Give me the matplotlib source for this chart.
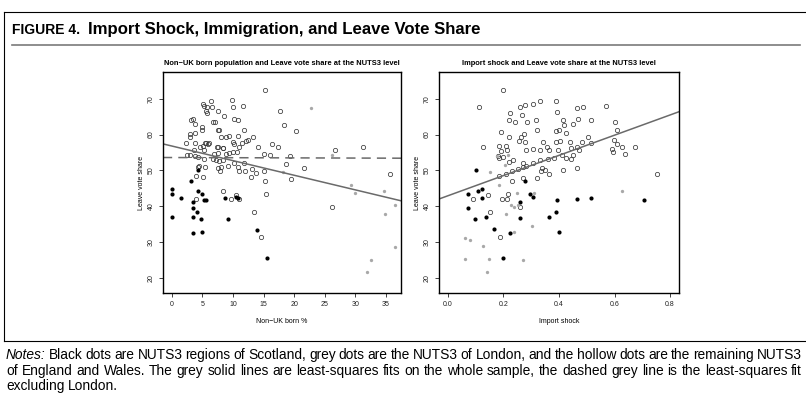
import numpy as np
import matplotlib
matplotlib.use("Agg")
import matplotlib.pyplot as plt
from matplotlib.lines import Line2D

plt.rcParams['font.family'] = ['Liberation Sans', 'DejaVu Sans']

# ---- left panel: non-UK born % vs leave share ----
left_scot_x = [0, 0, 0, 1.45, 3.2, 3.45, 3.4, 3.4, 3.45, 4.26, 4.26, 4.1, 4.7, 4.85,
               4.95, 5.2, 5.6, 8.7, 9.25, 10.55, 10.8, 13.9, 15.6]
left_scot_y = [44.85, 43.5, 36.9, 42.4, 47.1, 41.1, 39.5, 37.0, 32.6, 50.2, 44.1, 38.4,
               36.5, 32.7, 43.3, 41.6, 41.8, 42.4, 36.4, 42.6, 42.4, 33.4, 25.6]

left_lon_x = [22.7, 26.1, 18.1, 29.3, 29.95, 34.7, 36.5, 34.9, 36.4, 32.6, 31.9]
left_lon_y = [67.3, 54.3, 49.6, 45.8, 43.6, 44.3, 40.2, 37.9, 28.7, 25.0, 21.5]

left_rest_x = [15.2, 6.4, 9.8, 5.1, 5.3, 5.8, 6.5, 10.05, 11.6, 17.7, 5.6, 7.5, 5.8, 8.5,
               3.2, 3.5, 3.8, 6.8, 7.0, 10.1, 10.75, 18.4, 20.3, 7.5, 7.7, 5.0, 4.9, 11.8,
               2.9, 3.8, 3.0, 8.9, 9.3, 8.0, 10.75, 12.2, 12.5, 13.2, 2.3, 3.8, 5.4, 5.6,
               5.9, 6.1, 10.05, 10.2, 11.5, 16.4, 4.6, 5.1, 7.3, 7.6, 8.3, 8.4, 11.0, 14.0,
               17.3, 26.6, 31.2, 3.7, 5.2, 6.9, 7.6, 8.9, 9.4, 10.05, 10.6, 15.0, 16.1, 19.3,
               2.4, 2.9, 3.8, 4.35, 5.3, 6.7, 7.2, 7.7, 8.3, 10.1, 11.8, 18.7, 21.6, 4.3,
               4.5, 5.4, 7.5, 8.0, 9.1, 10.75, 13.1, 12.0, 11.0, 7.8, 15.05, 13.7, 13.0, 4.0,
               5.1, 19.4, 15.3, 8.4, 15.4, 9.7, 10.5, 11.0, 4.0, 26.2, 13.4, 14.5, 35.6]
left_rest_y = [72.4, 69.3, 69.6, 68.5, 68.1, 67.7, 67.7, 67.7, 67.9, 66.7, 66.7, 66.5, 66.0, 65.3,
               64.1, 64.3, 63.1, 63.5, 63.5, 64.4, 64.1, 62.7, 61.0, 61.4, 61.2, 62.1, 61.4, 61.4,
               60.3, 60.5, 59.3, 59.4, 59.7, 59.3, 59.6, 58.3, 58.5, 59.3, 57.6, 57.6, 57.7, 57.7,
               57.4, 57.6, 57.9, 57.4, 57.6, 57.4, 56.6, 56.9, 56.4, 56.4, 56.3, 56.3, 56.6, 56.6,
               56.4, 55.6, 56.6, 55.8, 55.8, 54.7, 54.8, 54.6, 54.8, 55.0, 55.2, 54.6, 54.4, 53.9,
               54.4, 54.2, 54.1, 53.8, 53.3, 53.3, 52.9, 52.5, 52.8, 52.2, 52.2, 51.9, 50.8, 51.0,
               51.3, 50.9, 50.8, 51.0, 51.3, 51.0, 50.3, 49.8, 49.8, 49.8, 49.9, 49.2, 48.1, 48.3,
               48.2, 47.7, 46.9, 44.3, 43.3, 42.1, 43.0, 42.0, 42.1, 39.7, 38.5, 31.5, 49.1]

# fits (intercept, slope)
left_fit_all = (56.81, -0.409)
left_fit_nolon = (53.59, -0.005)

# ---- right panel: import shock vs leave share ----
right_scot_x = [0.072, 0.107, 0.124, 0.124, 0.074, 0.099, 0.138, 0.165, 0.197, 0.225, 0.259,
                0.259, 0.278, 0.296, 0.306, 0.364, 0.388, 0.393, 0.399, 0.100, 0.463, 0.516, 0.706]
right_scot_y = [43.5, 44.1, 44.85, 42.4, 39.5, 36.5, 37.0, 33.6, 25.6, 32.6, 41.1,
                36.6, 47.1, 43.4, 42.5, 37.1, 38.4, 41.7, 32.7, 50.2, 41.9, 42.4, 41.7]

right_lon_x = [0.185, 0.25, 0.309, 0.228, 0.239, 0.252, 0.209, 0.302, 0.062, 0.078, 0.128,
               0.060, 0.147, 0.27, 0.14, 0.237, 0.15, 0.176, 0.216, 0.205, 0.626]
right_lon_y = [45.8, 43.6, 43.8, 40.4, 39.7, 40.4, 37.9, 34.4, 31.2, 30.6, 28.8,
               25.1, 25.1, 24.9, 21.5, 32.7, 49.5, 54.1, 54.3, 51.4, 44.3]

right_rest_x = [0.198, 0.112, 0.261, 0.279, 0.308, 0.331, 0.388, 0.392, 0.225, 0.268, 0.219,
                0.24, 0.286, 0.318, 0.19, 0.219, 0.274, 0.319, 0.388, 0.40, 0.256, 0.263,
                0.277, 0.342, 0.39, 0.125, 0.183, 0.208, 0.211, 0.192, 0.281, 0.308, 0.33,
                0.357, 0.364, 0.397, 0.181, 0.183, 0.198, 0.236, 0.221, 0.27, 0.28, 0.308,
                0.33, 0.36, 0.382, 0.27, 0.251, 0.338, 0.35, 0.335, 0.183, 0.209, 0.231,
                0.23, 0.27, 0.32, 0.365, 0.464, 0.486, 0.568, 0.414, 0.469, 0.516, 0.60,
                0.417, 0.452, 0.609, 0.424, 0.506, 0.405, 0.439, 0.484, 0.597, 0.607, 0.516,
                0.443, 0.466, 0.472, 0.591, 0.625, 0.672, 0.595, 0.639, 0.411, 0.425, 0.443,
                0.45, 0.416, 0.464, 0.751, 0.091, 0.144, 0.196, 0.211, 0.215, 0.259, 0.152, 0.186]
right_rest_y = [72.4, 67.6, 67.8, 68.3, 68.6, 69.5, 69.3, 66.4, 66.0, 65.4, 64.0,
                63.4, 63.4, 64.2, 60.6, 59.3, 60.1, 61.4, 61.1, 61.4, 58.3, 59.2,
                57.8, 58.0, 57.9, 56.4, 56.7, 56.9, 55.8, 55.3, 55.8, 56.1, 55.6,
                56.5, 55.6, 55.8, 54.1, 53.5, 53.7, 53.0, 52.3, 52.1, 51.1, 52.1,
                53.0, 53.1, 53.5, 50.9, 50.5, 50.8, 50.2, 49.8, 48.3, 49.0, 49.7,
                47.1, 48.0, 48.0, 49.1, 67.3, 67.8, 68.1, 64.2, 64.4, 64.0, 63.4,
                62.8, 63.1, 61.4, 60.5, 59.3, 58.2, 57.8, 57.8, 58.6, 57.5, 57.7,
                56.2, 56.5, 55.8, 56.0, 56.5, 56.4, 55.2, 54.5, 54.2, 53.5, 53.3,
                54.4, 50.1, 50.8, 49.1, 42.1, 43.0, 42.0, 42.0, 43.4, 39.7, 38.4, 31.4]

right_fit_all = (42.9, 28.24)

left_xticks = [0, 5, 10, 15, 20, 25, 30, 35]
right_xticks = [0.0, 0.2, 0.4, 0.6, 0.8]
yticks = [20, 30, 40, 50, 60, 70]

notes_lines = [
    'Notes: Black dots are NUTS3 regions of Scotland, grey dots are the NUTS3 of London, and the hollow dots are the remaining NUTS3',
    'of England and Wales. The grey solid lines are least-squares fits on the whole sample, the dashed grey line is the least-squares fit',
    'excluding London.',
]

W, H = 806, 394
fig = plt.figure(figsize=(W / 100, H / 100), dpi=100)


def fx(px):
    return px / W


def fy(py):
    return 1 - py / H


def panel(rect, xlim, xticks, xfmt, rest, scot, lon, fits, title, xlabel):
    ax = fig.add_axes(rect)
    ax.plot(rest[0], rest[1], 'o', ms=3.1, mfc='none', mec='#3a3a3a', mew=0.55, ls='none')
    ax.plot(lon[0], lon[1], 'o', ms=2.4, mfc='#a8a8a8', mec='#a8a8a8', mew=0, ls='none')
    ax.plot(scot[0], scot[1], 'o', ms=3.0, mfc='black', mec='black', mew=0, ls='none')
    xs = np.array(xlim)
    for (a, b), ls in fits:
        ax.plot(xs, a + b * xs, color='#6a6a6a', lw=1.1, ls=ls, dashes=(6, 4) if ls == '--' else (None, None))
    ax.set_xlim(xlim)
    ax.set_ylim(15.72, 77.5)
    ax.set_xticks(xticks)
    ax.set_xticklabels([xfmt(t) for t in xticks])
    ax.set_yticks(yticks)
    ax.set_yticklabels([str(t) for t in yticks], rotation=90, va='center')
    ax.tick_params(length=3, width=0.6, labelsize=5, pad=3, colors='#222222')
    for s in ax.spines.values():
        s.set_linewidth(1.0)
    ax.set_title(title, fontsize=5.4, fontweight='bold', pad=5)
    ax.set_xlabel(xlabel, fontsize=5, labelpad=7)
    ax.set_ylabel('Leave vote share', fontsize=5, labelpad=2)
    return ax


panel([fx(163), fy(293), fx(401) - fx(163), fy(72) - fy(293)], (-1.44, 37.44), left_xticks,
      lambda t: str(t), (left_rest_x, left_rest_y), (left_scot_x, left_scot_y),
      (left_lon_x, left_lon_y), [(left_fit_all, '-'), (left_fit_nolon, '--')],
      'Non\u2212UK born population and Leave vote share at the NUTS3 level', 'Non\u2212UK born %')

panel([fx(439), fy(293), fx(679) - fx(439), fy(72) - fy(293)], (-0.032, 0.832), right_xticks,
      lambda t: '%.1f' % t, (right_rest_x, right_rest_y), (right_scot_x, right_scot_y),
      (right_lon_x, right_lon_y), [(right_fit_all, '-')],
      'Import shock and Leave vote share at the NUTS3 level', 'Import shock')

# frame and rules
fig.add_artist(Line2D([fx(4), 1], [fy(12), fy(12)], color='black', lw=0.8))
fig.add_artist(Line2D([fx(4), fx(4)], [fy(12), fy(341)], color='black', lw=0.8))
fig.add_artist(Line2D([fx(4), 1], [fy(341), fy(341)], color='black', lw=0.8))
fig.add_artist(Line2D([fx(12), fx(800)], [fy(45), fy(45)], color='#7a7a7a', lw=1.2))

fig.text(fx(12), fy(29.5), 'FIGURE 4.', fontsize=10, fontweight='bold', va='center', ha='left')
fig.text(fx(88), fy(29.5), 'Import Shock, Immigration, and Leave Vote Share', fontsize=12.1,
         fontweight='bold', va='center', ha='left')

# justified notes block, words placed on a common baseline
notes_fs = 9.9
r = fig.canvas.get_renderer()
x_left, x_right = 6, 802
for i, (line, ypx) in enumerate(zip(notes_lines, [359, 375, 390])):
    words = line.split(' ')
    texts = []
    for w in words:
        style = 'italic' if w == 'Notes:' else 'normal'
        texts.append(fig.text(0, fy(ypx), w, fontsize=notes_fs, style=style,
                              va='baseline', ha='left'))
    widths = [t.get_window_extent(renderer=r).width for t in texts]
    space = notes_fs * 0.278 * 100 / 72
    if i < len(notes_lines) - 1:
        gap = (x_right - x_left - sum(widths)) / (len(words) - 1)
    else:
        gap = space
    x = x_left
    for t, wd in zip(texts, widths):
        t.set_x(x / W)
        x += wd + gap

fig.savefig('out.png', dpi=100)
